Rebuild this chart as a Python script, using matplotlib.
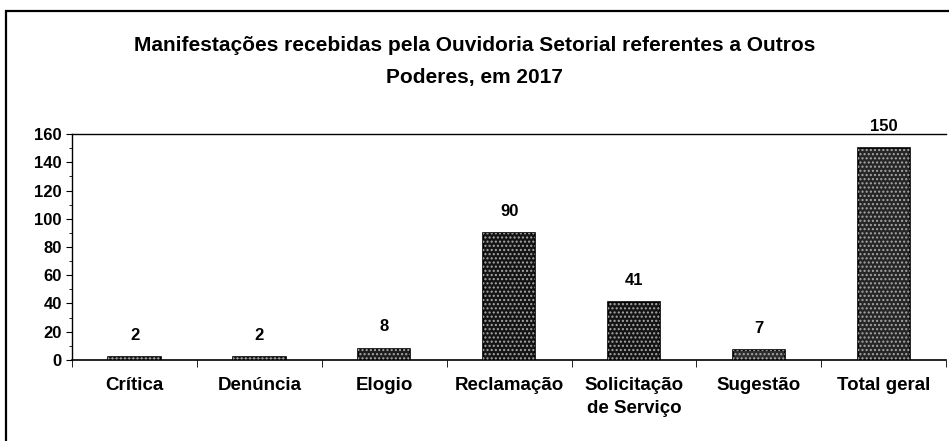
import matplotlib.pyplot as plt
import numpy as np
from matplotlib.patches import Rectangle

categorias = ['Crítica', 'Denúncia', 'Elogio', 'Reclamação', 'Solicitação\nde Serviço', 'Sugestão', 'Total geral']
valores = [2, 2, 8, 90, 41, 7, 150]
titulo = 'Manifestações recebidas pela Ouvidoria Setorial referentes a Outros\nPoderes, em 2017'

plt.rcParams['font.family'] = ['Liberation Sans', 'DejaVu Sans']

fig = plt.figure(figsize=(9.49, 4.41), dpi=100)
ax = fig.add_axes([0.076, 0.184, 0.921, 0.512])

# moldura externa
fig.patches.append(Rectangle((0.006, -0.01), 1.1, 0.985, transform=fig.transFigure,
                             fill=False, edgecolor='black', linewidth=1.6))

x = np.arange(len(categorias))
cores = ['#444444', '#4a4a4a', '#1e1e1e', '#141414', '#141414', '#2e2e2e', '#262626']
ax.bar(x, valores, width=0.42, color=cores, edgecolor='black', linewidth=1.2, zorder=2)
ax.bar(x, valores, width=0.42, fill=False, hatch='....', edgecolor='#a8a8a8', linewidth=0, zorder=3)

for xi, v in zip(x, valores):
    ax.text(xi, v + 10, str(v), ha='center', va='bottom', fontsize=12, fontweight='bold')

ax.set_xlim(-0.5, len(categorias) - 0.5)
ax.set_ylim(0, 160)
ax.set_yticks(range(0, 161, 20))
ax.set_yticks(range(0, 161, 10), minor=True)
ax.set_xticks(x)
ax.set_xticklabels(categorias, fontsize=13.5, fontweight='bold', linespacing=1.5)
ax.set_xticks(np.arange(-0.5, len(categorias), 1), minor=True)
ax.tick_params(axis='x', which='major', length=0, pad=12)
ax.tick_params(axis='x', which='minor', length=5, direction='out')
ax.tick_params(axis='y', which='major', length=4, labelsize=12, direction='out')
ax.tick_params(axis='y', which='minor', length=2, direction='out')
for lbl in ax.get_yticklabels():
    lbl.set_fontweight('bold')

ax.spines['right'].set_visible(False)
ax.spines['top'].set_linewidth(1.0)
ax.spines['left'].set_linewidth(1.0)
ax.spines['bottom'].set_linewidth(1.2)

fig.text(0.5, 0.86, titulo, ha='center', va='center', fontsize=15, fontweight='bold',
         linespacing=1.85)

fig.savefig('out.png', dpi=100)
